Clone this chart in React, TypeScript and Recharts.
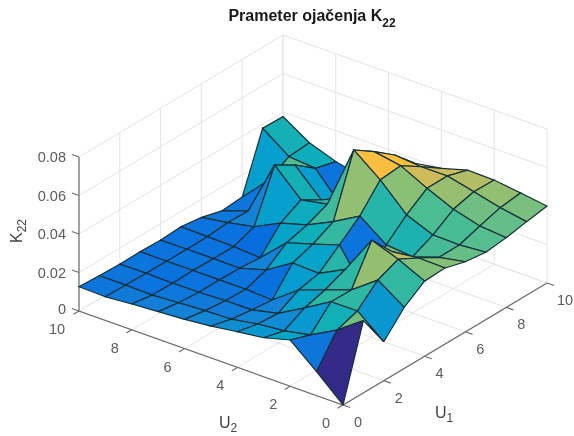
import React from 'react';
import { ScatterChart, Scatter, XAxis, YAxis } from 'recharts';

// K22, one list per U2 value, each from U1 = 0 to U1 = 10
const kAtU2_0 = [0, 0.0375, 0.0202, 0.0317, 0.039, 0.0395, 0.0364, 0.035, 0.0362, 0.0382, 0.04];
const kAtU2_1 = [0.0124, 0.0277, 0.0313, 0.041, 0.0455, 0.0398, 0.0338, 0.0339, 0.0374, 0.0406, 0.0419];
const kAtU2_2 = [0.024, 0.0203, 0.0312, 0.031, 0.0505, 0.0382, 0.0292, 0.0342, 0.0412, 0.044, 0.0437];
const kAtU2_3 = [0.0203, 0.0175, 0.0231, 0.0261, 0.0305, 0.0118, 0.0305, 0.0397, 0.0472, 0.0473, 0.044];
const kAtU2_4 = [0.0185, 0.0162, 0.0154, 0.0212, 0.0235, 0.0319, 0.0406, 0.053, 0.0541, 0.0472, 0.04];
const kAtU2_5 = [0.0166, 0.0138, 0.0123, 0.0111, 0.024, 0.0275, 0.0328, 0.0637, 0.0565, 0.0484, 0.0378];
const kAtU2_6 = [0.0152, 0.0134, 0.0122, 0.0118, 0.0155, 0.0233, 0.0262, 0.0307, 0.028, 0.03, 0.0372];
const kAtU2_7 = [0.0143, 0.0126, 0.0117, 0.0118, 0.0115, 0.0106, 0.0223, 0.028, 0.0216, 0.012, 0.021];
const kAtU2_8 = [0.0134, 0.0117, 0.0115, 0.0118, 0.0116, 0.0115, 0.0155, 0.0412, 0.0349, 0.0268, 0.024];
const kAtU2_9 = [0.0123, 0.012, 0.0118, 0.0117, 0.0116, 0.0118, 0.0128, 0.0125, 0.022, 0.028, 0.0289];
const kAtU2_10 = [0.0126, 0.012, 0.0117, 0.0118, 0.0115, 0.0121, 0.0106, 0.0076, 0.0085, 0.0379, 0.0376];
const surface = [kAtU2_0, kAtU2_1, kAtU2_2, kAtU2_3, kAtU2_4, kAtU2_5, kAtU2_6, kAtU2_7, kAtU2_8, kAtU2_9, kAtU2_10];

const uTicks = [0, 2, 4, 6, 8, 10];
const kTicks = [0, 0.02, 0.04, 0.06, 0.08];
const kTickLabels = ['0', '0.02', '0.04', '0.06', '0.08'];

// parula, every third entry of the 64 step map
const parula = [
  [53, 42, 135], [53, 61, 173], [32, 83, 212], [2, 104, 225], [13, 117, 220], [20, 129, 214],
  [16, 142, 210], [7, 156, 207], [6, 167, 198], [15, 174, 185], [37, 181, 170], [66, 187, 152],
  [101, 190, 134], [135, 191, 119], [165, 190, 107], [192, 188, 96], [217, 186, 86], [241, 185, 74],
  [255, 195, 55], [250, 211, 41], [245, 228, 29], [249, 251, 14],
];
const kMax = 0.0637;

const W = 574;
const H = 436;

// oblique view of (U1, U2, K) on the page
const project = (u1: number, u2: number, k: number) => ({
  x: 343 + 20.4 * u1 - 26.4 * u2,
  y: 405 - 12.2 * u1 - 9.4 * u2 - 1925 * k,
});

const faceColor = (k: number) => {
  const t = (Math.min(k / kMax, 1)) * (parula.length - 1);
  const a = Math.floor(t);
  const b = Math.min(a + 1, parula.length - 1);
  const c = parula[a].map((v, n) => Math.round(v + (parula[b][n] - v) * (t - a)));
  return `rgb(${c[0]},${c[1]},${c[2]})`;
};

const quads: { u1: number; u2: number }[] = [];
for (let u2 = 0; u2 < 10; u2++) {
  for (let u1 = 0; u1 < 10; u1++) quads.push({ u1, u2 });
}
// far faces first
quads.sort((a, b) => 12.2 * b.u1 + 9.4 * b.u2 - (12.2 * a.u1 + 9.4 * a.u2));

const quadPoints = (u1: number, u2: number) => {
  const corners = [[u1, u2], [u1 + 1, u2], [u1 + 1, u2 + 1], [u1, u2 + 1], [u1, u2]];
  return corners.map(([a, b]) => project(a, b, surface[b][a]));
};

// wall and floor grid, then the three rulers
const gridLines: { x: number; y: number }[][] = [];
const topK = kTicks[kTicks.length - 1];
uTicks.forEach((u) => {
  gridLines.push([project(u, 0, 0), project(u, 10, 0), project(u, 10, topK)]);
  gridLines.push([project(0, u, 0), project(10, u, 0), project(10, u, topK)]);
});
kTicks.forEach((k) => {
  gridLines.push([project(0, 10, k), project(10, 10, k), project(10, 0, k)]);
});

const tickLen = 0.27;
const axisLines: { x: number; y: number }[][] = [
  [project(0, 10, topK), project(0, 10, 0), project(0, 0, 0), project(10, 0, 0)],
];
uTicks.forEach((u) => {
  axisLines.push([project(u, 0, 0), project(u, -tickLen, 0)]);
  axisLines.push([project(0, u, 0), project(-tickLen, u, 0)]);
});
kTicks.forEach((k) => {
  axisLines.push([project(0, 10, k), project(0, 10 + tickLen, k)]);
});

const shift = (p: { x: number; y: number }, dx: number, dy: number) => ({ x: p.x + dx, y: p.y + dy });

const u2Labels = uTicks.map((u) => ({ ...shift(project(0, u, 0), u === 10 ? -22 : -17, 23), text: String(u) }));
const u1Labels = uTicks.map((u) => ({ ...shift(project(u, 0, 0), u === 10 ? 18 : 15, 22), text: String(u) }));
const kLabels = kTicks.map((k, n) => ({ ...shift(project(0, 10, k), -13, k === 0 ? 3 : 5), text: kTickLabels[n] }));

const noDot = () => null;
const tickColor = '#5c5c5c';

const TickText = (props: any) => (
  <text x={props.cx} y={props.cy} textAnchor={props.anchor} fontSize={14.5} fontFamily="Liberation Sans" fill={tickColor}>
    {props.payload.text}
  </text>
);
const MiddleTick = (props: any) => <TickText {...props} anchor="middle" />;
const EndTick = (props: any) => <TickText {...props} anchor="end" />;

const Title = (props: any) => (
  <text x={props.cx} y={props.cy} textAnchor="middle" fontSize={16} fontWeight="bold" fontFamily="Liberation Sans" fill="#1a1a1a">
    {props.payload.text}
    <tspan dy={6} fontSize={12}>{props.payload.sub}</tspan>
  </text>
);

const AxisName = (props: any) => (
  <text
    x={props.cx}
    y={props.cy}
    textAnchor="middle"
    fontSize={16}
    fontFamily="Liberation Sans"
    fill="#444"
    transform={props.payload.turn ? `rotate(-90 ${props.cx} ${props.cy})` : undefined}
  >
    {props.payload.text}
    <tspan dy={4} fontSize={12}>{props.payload.sub}</tspan>
  </text>
);

const App = () => (
  <div style={{ position: 'absolute', left: 0, top: 0, width: W, height: H, filter: 'blur(0.45px)' }}>
    <ScatterChart width={W} height={H} margin={{ top: 0, right: 0, bottom: 0, left: 0 }}>
      <XAxis type="number" dataKey="x" domain={[0, W]} hide />
      <YAxis type="number" dataKey="y" domain={[0, H]} reversed hide />
      {gridLines.map((pts, n) => (
        <Scatter key={`grid-${n}`} data={pts} shape={noDot} line={{ stroke: '#e4e4e4', strokeWidth: 1 }} lineJointType="linear" isAnimationActive={false} />
      ))}
      {axisLines.map((pts, n) => (
        <Scatter key={`axis-${n}`} data={pts} shape={noDot} line={{ stroke: '#6e6e6e', strokeWidth: 1.2 }} lineJointType="linear" isAnimationActive={false} />
      ))}
      {quads.map(({ u1, u2 }) => (
        <Scatter
          key={`face-${u1}-${u2}`}
          data={quadPoints(u1, u2)}
          shape={noDot}
          line={{ stroke: '#14303a', strokeWidth: 1.2, fill: faceColor(surface[u2][u1]) }}
          lineJointType="linear"
          isAnimationActive={false}
        />
      ))}
      <Scatter data={u2Labels} shape={MiddleTick} isAnimationActive={false} />
      <Scatter data={u1Labels} shape={MiddleTick} isAnimationActive={false} />
      <Scatter data={kLabels} shape={EndTick} isAnimationActive={false} />
      <Scatter data={[{ x: 312, y: 21, text: 'Prameter ojačenja K', sub: '22' }]} shape={Title} isAnimationActive={false} />
      <Scatter data={[{ x: 228, y: 428, text: 'U', sub: '2' }]} shape={AxisName} isAnimationActive={false} />
      <Scatter data={[{ x: 444, y: 418, text: 'U', sub: '1' }]} shape={AxisName} isAnimationActive={false} />
      <Scatter data={[{ x: 22, y: 231, text: 'K', sub: '22', turn: true }]} shape={AxisName} isAnimationActive={false} />
    </ScatterChart>
  </div>
);

export default App;
